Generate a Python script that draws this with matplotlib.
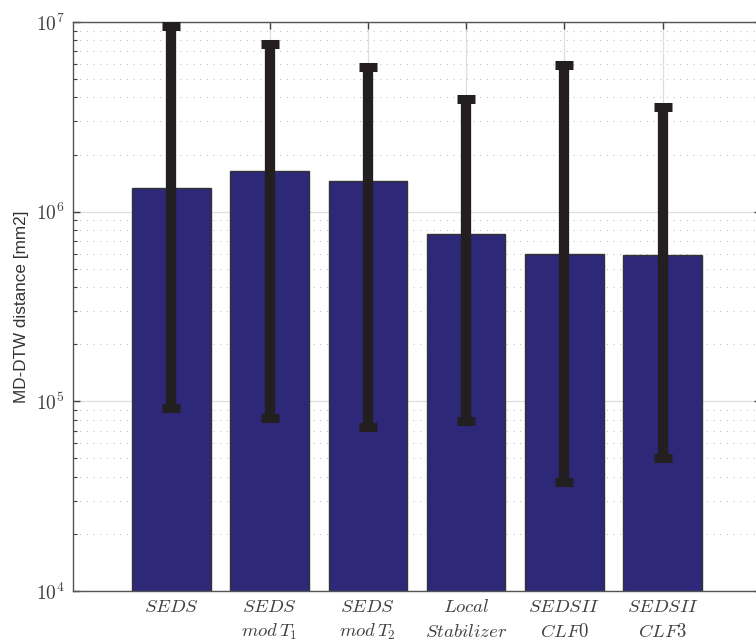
import numpy as np
import matplotlib.pyplot as plt
from matplotlib.ticker import LogLocator, NullFormatter, FuncFormatter

plt.rcParams['mathtext.fontset'] = 'cm'

# MD-DTW distance per method: mean with lower/upper spread
methods = ['$SEDS$', '$SEDS$\n$mod\\,T_1$', '$SEDS$\n$mod\\,T_2$',
           '$Local$\n$Stabilizer$', '$SEDSII$\n$CLF0$', '$SEDSII$\n$CLF3$']
mean_dist = [1.33e6, 1.64e6, 1.45e6, 7.6e5, 5.95e5, 5.9e5]
upper_dist = [9.5e6, 7.65e6, 5.8e6, 3.93e6, 5.93e6, 3.56e6]
lower_dist = [9.2e4, 8.2e4, 7.3e4, 7.9e4, 3.76e4, 5.04e4]

x = np.arange(1, len(methods) + 1)
mean_arr = np.array(mean_dist)
yerr = [mean_arr - np.array(lower_dist), np.array(upper_dist) - mean_arr]

fig = plt.figure(figsize=(7.56, 6.41), dpi=100)
ax = fig.add_axes([0.0966, 0.078, 0.910, 0.8877])

ax.bar(x, mean_dist, width=0.8, color='#2d2878', edgecolor='#333333',
       linewidth=1.0, zorder=2)
ax.errorbar(x, mean_dist, yerr=yerr, fmt='none', ecolor='#231f20',
            elinewidth=7.4, capsize=6.8, capthick=6.5, zorder=3)

ax.set_yscale('log')
ax.set_ylim(1e4, 1e7)
ax.set_xlim(0, 7)
ax.set_xticks(x)
ax.set_xticklabels(methods, fontsize=13.5, color='#404040', linespacing=1.4)
ax.yaxis.set_major_formatter(FuncFormatter(lambda v, p: '$10^{%d}$' % round(np.log10(v))))
ax.yaxis.set_minor_locator(LogLocator(base=10, subs=np.arange(2, 10)))
ax.yaxis.set_minor_formatter(NullFormatter())

ax.tick_params(which='both', direction='in', top=True, right=True,
               colors='#404040')
ax.tick_params(axis='y', labelsize=14)
ax.tick_params(which='major', length=5, width=1)
ax.tick_params(which='minor', length=3, width=0.8)
ax.tick_params(axis='x', pad=4)
ax.tick_params(axis='y', pad=6)

ax.set_axisbelow(True)
ax.grid(which='major', axis='both', color='#dedede', linewidth=0.9)
ax.grid(which='minor', axis='y', color='#c4c4c4', linestyle=(0, (1, 5)),
        linewidth=0.8)

for sp in ax.spines.values():
    sp.set_color('#555555')
    sp.set_linewidth(1.0)

ax.set_ylabel('MD-DTW distance [mm2]', fontsize=12.3, color='#333333',
              family=['Liberation Sans', 'DejaVu Sans'], labelpad=5)

fig.savefig('out.png', dpi=100)
